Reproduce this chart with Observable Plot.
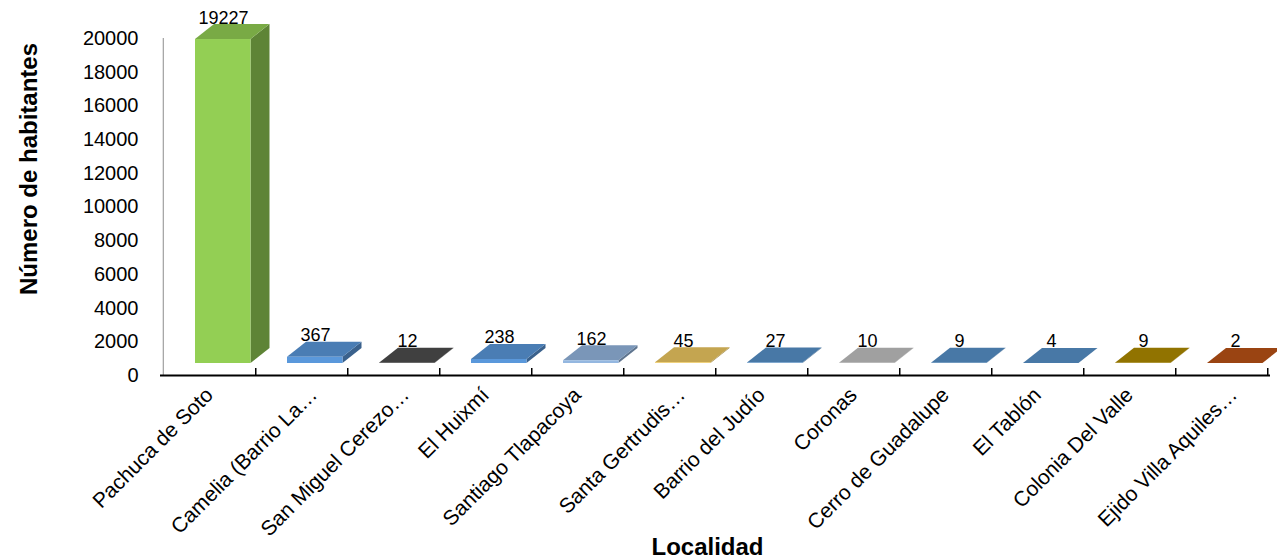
<!DOCTYPE html>
<html>
<head>
<meta charset="utf-8">
<script src="https://cdn.jsdelivr.net/npm/d3@7"></script>
<script src="https://cdn.jsdelivr.net/npm/@observablehq/plot@0.6"></script>
<style>
  body { margin: 0; background: #ffffff; }
  #chart svg { display: block; }
</style>
</head>
<body>
<div id="chart"></div>
<script>
// ---- data ----
const localidades = [
  "Pachuca de Soto",
  "Camelia (Barrio La…",
  "San Miguel Cerezo…",
  "El Huixmí",
  "Santiago Tlapacoya",
  "Santa Gertrudis…",
  "Barrio del Judío",
  "Coronas",
  "Cerro de Guadalupe",
  "El Tablón",
  "Colonia Del Valle",
  "Ejido Villa Aquiles…"
];
const habitantes = [19227, 367, 12, 238, 162, 45, 27, 10, 9, 4, 9, 2];
const colores = [
  "#79aa45", "#4a7db4", "#404040", "#4a7db4", "#7a96b8", "#c4a550",
  "#4878a6", "#a0a0a0", "#4878a6", "#4878a6", "#917300", "#9a4412"
];
const yTicks = [0, 2000, 4000, 6000, 8000, 10000, 12000, 14000, 16000, 18000, 20000];
const tituloY = "Número de habitantes";
const tituloX = "Localidad";

// ---- layout / style ----
const W = 1277, H = 558;
const mLeft = 160, mRight = 7, mTop = 38, mBottom = 183;
const bw = (W - mLeft - mRight) / localidades.length;
const DX = 19, DY = 15, LIFT = 12, INSET_L = 32, INSET_R = 4.5;

const filas = localidades.map((loc, i) => ({
  localidad: loc,
  valor: habitantes[i],
  frente: d3.color(colores[i]).brighter(0.55).formatHex()
}));

const truncadas = localidades.filter(d => d.endsWith("…"));
const completas = localidades.filter(d => !d.endsWith("…"));

// 3D top and side faces, positioned through the Plot scales
function caras(index, scales) {
  const x = scales.x, y = scales.y;
  const b = x.bandwidth ? x.bandwidth() : bw;
  const g = d3.create("svg:g");
  localidades.forEach((loc, i) => {
    const x0 = x(loc) + INSET_L, x1 = x(loc) + b - INSET_R;
    const yt = y(habitantes[i]) - LIFT, yb = y(0) - LIFT;
    const c = d3.color(colores[i]);
    g.append("path")
      .attr("d", `M${x1},${yt}L${x1 + DX},${yt - DY}L${x1 + DX},${yb - DY}L${x1},${yb}Z`)
      .attr("fill", c.darker(0.7).formatHex());
    g.append("path")
      .attr("d", `M${x0},${yt}L${x1},${yt}L${x1 + DX},${yt - DY}L${x0 + DX},${yt - DY}Z`)
      .attr("fill", c.formatHex());
  });
  return g.node();
}

const axisXOpts = { tickRotate: -45, tickSize: 0, tickPadding: 16, label: null, fill: "#000", fontSize: 21 };

const chart = Plot.plot({
  width: W,
  height: H,
  marginLeft: mLeft,
  marginRight: mRight,
  marginTop: mTop,
  marginBottom: mBottom,
  style: { fontFamily: "'Liberation Sans', Arial, sans-serif", fontSize: "20px", background: "#ffffff", color: "#000" },
  x: { domain: localidades, padding: 0, axis: null },
  y: { domain: [0, 20000], axis: null },
  color: { type: "identity" },
  marks: [
    Plot.ruleX([localidades[0]], { dx: -bw / 2, stroke: "#8c8c8c", strokeWidth: 1 }),
    Plot.ruleX(localidades, { dx: bw / 2, insetTop: (H - mTop - mBottom) - 7, stroke: "#000", strokeWidth: 1.5 }),
    Plot.ruleY([0], { stroke: "#000", strokeWidth: 2 }),
    Plot.axisY({ ticks: yTicks, tickSize: 0, tickPadding: 22, tickFormat: d => String(d), label: null, fill: "#000", fontSize: 20 }),
    Plot.axisX({ ...axisXOpts, ticks: completas }),
    Plot.axisX({ ...axisXOpts, ticks: truncadas, dx: 12 }),
    caras,
    Plot.barY(filas, { x: "localidad", y: "valor", fill: "frente", insetLeft: INSET_L, insetRight: INSET_R, dy: -LIFT }),
    Plot.text(filas, { x: "localidad", y: "valor", text: d => String(d.valor), dx: 14, dy: -LIFT - 16, lineAnchor: "bottom", fontSize: 18, fill: "#000" }),
    Plot.text([tituloY], { frameAnchor: "left", rotate: -90, dx: -131, dy: -38, textAnchor: "middle", lineAnchor: "middle", fontWeight: "bold", fontSize: 24, fill: "#000" }),
    Plot.text([tituloX], { frameAnchor: "bottom", dx: -8, dy: 179, textAnchor: "middle", lineAnchor: "bottom", fontWeight: "bold", fontSize: 24, fill: "#000" })
  ]
});
document.getElementById("chart").appendChild(chart);
</script>
</body>
</html>
